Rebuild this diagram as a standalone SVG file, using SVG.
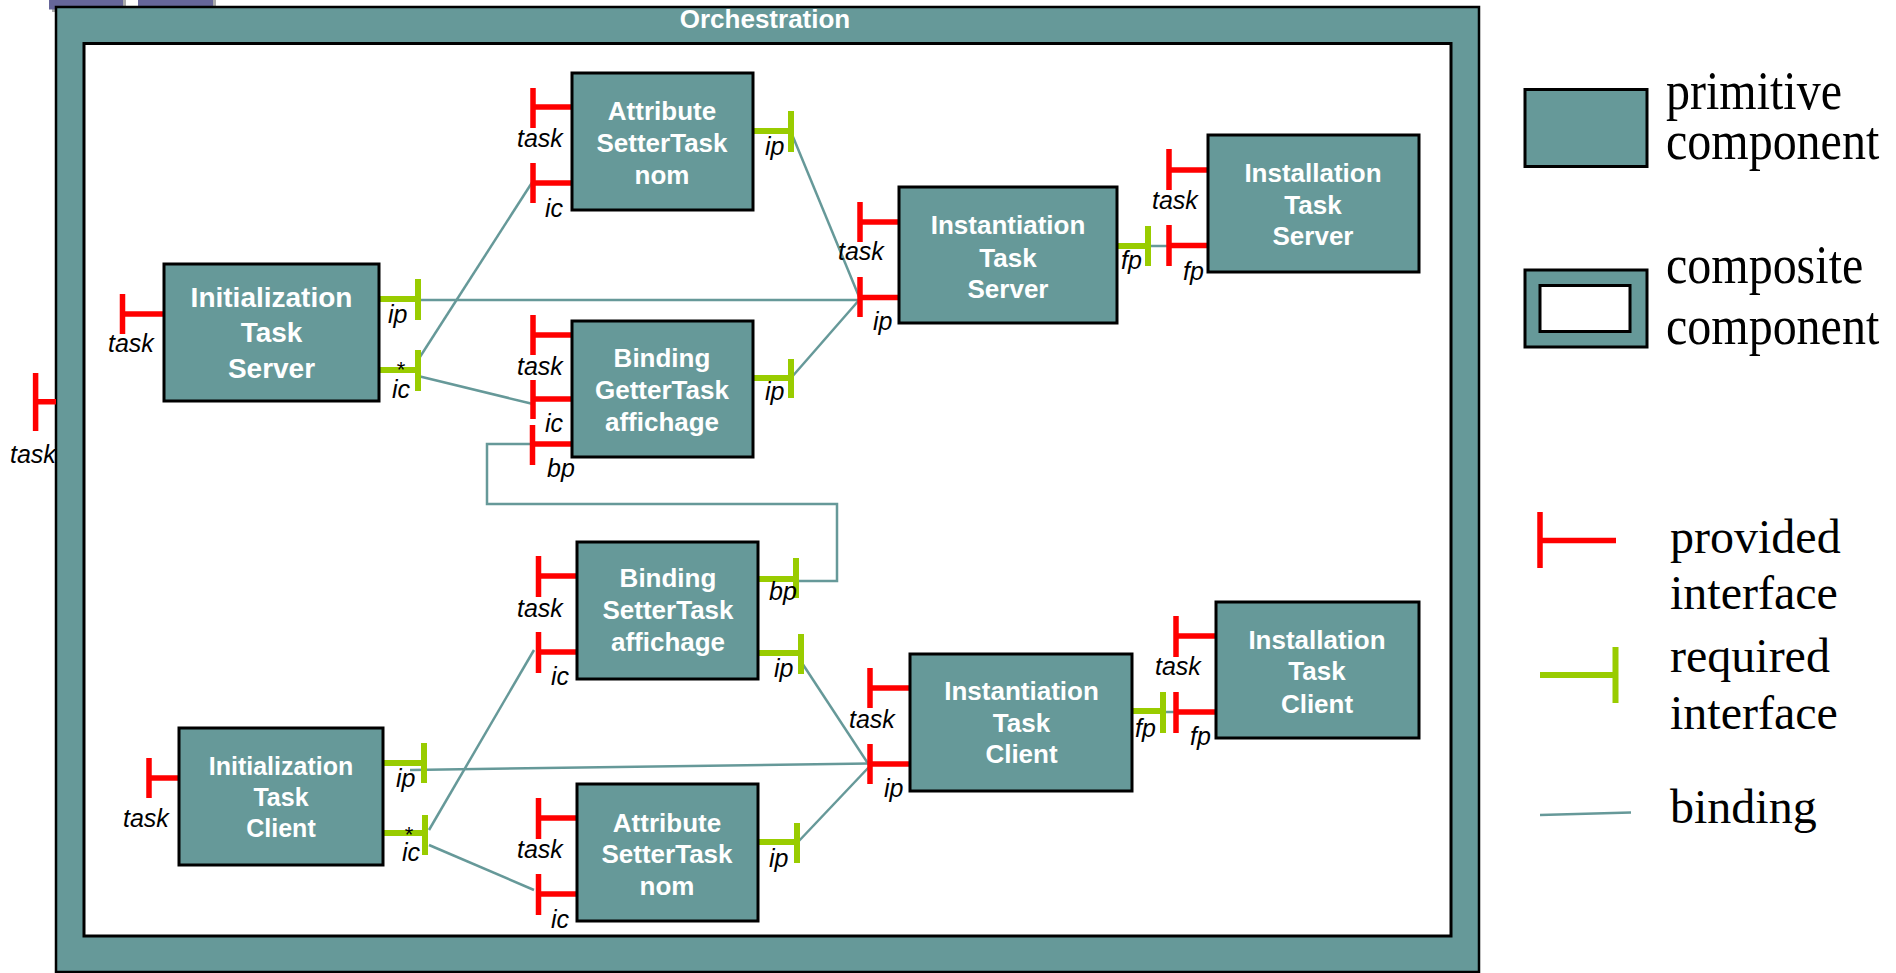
<svg xmlns="http://www.w3.org/2000/svg" width="1896" height="973" viewBox="0 0 1896 973">
<style>
.box{fill:#669999;stroke:#000;stroke-width:3}
.prov{stroke:#ff0000;stroke-width:5.5;fill:none}
.req{stroke:#99cc00;stroke-width:6;fill:none}
.bind{stroke:#669999;stroke-width:2.5;fill:none}
.nt{font-family:"Liberation Sans",Arial,sans-serif;font-weight:bold;fill:#fff;text-anchor:middle;font-size:26px}
.lbl{font-family:"Liberation Sans",Arial,sans-serif;font-style:italic;font-size:25px;fill:#000}
.star{font-family:"Liberation Sans",Arial,sans-serif;font-size:22px;fill:#000;text-anchor:middle}
.leg{font-family:"Liberation Serif","Times New Roman",serif;font-size:48px;fill:#000}
</style>
<rect width="1896" height="973" fill="#fff"/>
<g id="tabs">
<rect x="52" y="0" width="74" height="12" fill="#aaaaaa"/>
<rect x="49" y="0" width="74" height="9.5" fill="#666699"/>
<rect x="141" y="0" width="75" height="12" fill="#aaaaaa"/>
<rect x="138" y="0" width="75" height="9.5" fill="#666699"/>
</g>
<g id="orchestration">
<rect x="56" y="7" width="1423" height="965" fill="#669999" stroke="#000" stroke-width="2.5"/>
<rect x="84" y="43.5" width="1367" height="892.5" fill="#fff" stroke="#000" stroke-width="3"/>
<text x="765" y="28" class="nt" style="font-size:26px">Orchestration</text>
<path class="prov" d="M35.6 373V431M35.6 401.7H56"/>
<text x="10" y="463" class="lbl">task</text>
</g>
<g id="connectors">
<path class="bind" d="M418 300H860"/>
<path class="bind" d="M791 132L860 299"/>
<path class="bind" d="M791 378L860 299"/>
<path class="bind" d="M418 360L533 181"/>
<path class="bind" d="M418 376L533 404"/>
<path class="bind" d="M532 444H487V504H837V581H796"/>
<path class="bind" d="M1148 246H1169"/>
<path class="bind" d="M410 770L869 763.5"/>
<path class="bind" d="M802 663L869 765"/>
<path class="bind" d="M797 843L869 767"/>
<path class="bind" d="M429 830L534 650"/>
<path class="bind" d="M429 845L534 890"/>
<path class="bind" d="M1163 712H1176"/>
</g>
<g id="init-server">
<path class="prov" d="M122.5 294V334M122.5 314H164"/>
<path class="req" d="M379 299H418M418 279V320"/>
<path class="req" d="M379 370H418M418 350V391"/>
<rect class="box" x="164" y="264" width="215" height="137"/>
<text class="nt" x="271.5" style="font-size:28px"><tspan x="271.5" y="307">Initialization</tspan><tspan x="271.5" y="342">Task</tspan><tspan x="271.5" y="378">Server</tspan></text>
<text x="108" y="352" class="lbl">task</text>
<text x="388" y="323" class="lbl">ip</text>
<text x="392" y="398" class="lbl">ic</text>
<text x="401" y="377" class="star">*</text>
</g>
<g id="attr-setter-top">
<path class="prov" d="M533 88V128M533 107H572"/>
<path class="prov" d="M533 163V203M533 183H572"/>
<path class="req" d="M753 131H791M791 111V152"/>
<rect class="box" x="572" y="73" width="181" height="137"/>
<text class="nt"><tspan x="662" y="120">Attribute</tspan><tspan x="662" y="152">SetterTask</tspan><tspan x="662" y="184">nom</tspan></text>
<text x="517" y="147" class="lbl">task</text>
<text x="545" y="217" class="lbl">ic</text>
<text x="765" y="155" class="lbl">ip</text>
</g>
<g id="binding-getter">
<path class="prov" d="M533 315V355M533 335H572"/>
<path class="prov" d="M533 380V419M533 399H572"/>
<path class="prov" d="M532.5 425V465M532.5 444H572"/>
<path class="req" d="M753 378H791M791 359V398"/>
<rect class="box" x="572" y="321" width="181" height="136"/>
<text class="nt"><tspan x="662" y="367">Binding</tspan><tspan x="662" y="399">GetterTask</tspan><tspan x="662" y="431">affichage</tspan></text>
<text x="517" y="375" class="lbl">task</text>
<text x="545" y="432" class="lbl">ic</text>
<text x="547" y="477" class="lbl">bp</text>
<text x="765" y="400" class="lbl">ip</text>
</g>
<g id="inst-server">
<path class="prov" d="M860 202V242M860 222H899"/>
<path class="prov" d="M860 277V317M860 297.5H899"/>
<path class="req" d="M1117 246H1148M1148 226V266"/>
<rect class="box" x="899" y="187" width="218" height="136"/>
<text class="nt"><tspan x="1008" y="234">Instantiation</tspan><tspan x="1008" y="266.5">Task</tspan><tspan x="1008" y="298">Server</tspan></text>
<text x="838" y="260" class="lbl">task</text>
<text x="873" y="330" class="lbl">ip</text>
<text x="1121" y="269" class="lbl">fp</text>
</g>
<g id="install-server">
<path class="prov" d="M1169 149V190M1169 170H1208"/>
<path class="prov" d="M1169 225V266M1169 245.5H1208"/>
<rect class="box" x="1208" y="135" width="211" height="137"/>
<text class="nt"><tspan x="1313" y="182">Installation</tspan><tspan x="1313" y="213.5">Task</tspan><tspan x="1313" y="245">Server</tspan></text>
<text x="1152" y="209" class="lbl">task</text>
<text x="1183" y="280" class="lbl">fp</text>
</g>
<g id="binding-setter">
<path class="prov" d="M538.5 556V597M538.5 576H577"/>
<path class="prov" d="M538.5 632V673M538.5 652H577"/>
<path class="req" d="M758 579H796M796 558V598"/>
<path class="req" d="M758 653H801M801 634V674"/>
<rect class="box" x="577" y="542" width="181" height="137"/>
<text class="nt"><tspan x="668" y="587">Binding</tspan><tspan x="668" y="619">SetterTask</tspan><tspan x="668" y="651">affichage</tspan></text>
<text x="517" y="617" class="lbl">task</text>
<text x="551" y="685" class="lbl">ic</text>
<text x="769" y="600" class="lbl">bp</text>
<text x="774" y="677" class="lbl">ip</text>
</g>
<g id="init-client">
<path class="prov" d="M149 758V798M149 778H179"/>
<path class="req" d="M383 763H424M424 743V783"/>
<path class="req" d="M383 833H425M425 815V855"/>
<rect class="box" x="179" y="728" width="204" height="137"/>
<text class="nt" style="font-size:25px"><tspan x="281" y="775">Initialization</tspan><tspan x="281" y="806">Task</tspan><tspan x="281" y="837">Client</tspan></text>
<text x="123" y="827" class="lbl">task</text>
<text x="396" y="787" class="lbl">ip</text>
<text x="402" y="861" class="lbl">ic</text>
<text x="409" y="842" class="star">*</text>
</g>
<g id="attr-setter-bottom">
<path class="prov" d="M538.5 798V839M538.5 818H577"/>
<path class="prov" d="M538.5 874V915M538.5 894H577"/>
<path class="req" d="M758 842H797M797 823V863"/>
<rect class="box" x="577" y="784" width="181" height="137"/>
<text class="nt"><tspan x="667" y="831.5">Attribute</tspan><tspan x="667" y="863">SetterTask</tspan><tspan x="667" y="895">nom</tspan></text>
<text x="517" y="858" class="lbl">task</text>
<text x="551" y="928" class="lbl">ic</text>
<text x="769" y="867" class="lbl">ip</text>
</g>
<g id="inst-client">
<path class="prov" d="M870 668V708M870 688H910"/>
<path class="prov" d="M870 744V784M870 764H910"/>
<path class="req" d="M1132 711H1163M1163 692V733"/>
<rect class="box" x="910" y="654" width="222" height="137"/>
<text class="nt"><tspan x="1021.5" y="700">Instantiation</tspan><tspan x="1021.5" y="731.5">Task</tspan><tspan x="1021.5" y="763">Client</tspan></text>
<text x="849" y="728" class="lbl">task</text>
<text x="884" y="797" class="lbl">ip</text>
<text x="1135" y="737" class="lbl">fp</text>
</g>
<g id="install-client">
<path class="prov" d="M1176 616V657M1176 636H1216"/>
<path class="prov" d="M1176 692V733M1176 712H1216"/>
<rect class="box" x="1216" y="602" width="203" height="136"/>
<text class="nt"><tspan x="1317" y="648.5">Installation</tspan><tspan x="1317" y="680">Task</tspan><tspan x="1317" y="713">Client</tspan></text>
<text x="1155" y="675" class="lbl">task</text>
<text x="1190" y="745" class="lbl">fp</text>
</g>
<g id="legend">
<rect class="box" x="1525" y="89.5" width="122" height="77"/>
<text class="leg" transform="translate(1666 108.5) scale(1 1.15)">primitive</text>
<text class="leg" transform="translate(1666 159) scale(1 1.15)">component</text>
<rect class="box" x="1525" y="270" width="122" height="77"/>
<rect x="1540" y="285.5" width="90" height="46" fill="#fff" stroke="#000" stroke-width="3"/>
<text class="leg" transform="translate(1666 283) scale(1 1.15)">composite</text>
<text class="leg" transform="translate(1666 344) scale(1 1.15)">component</text>
<path class="prov" d="M1540 512V568M1540 540.5H1616"/>
<text class="leg"><tspan x="1670" y="553">provided</tspan><tspan x="1670" y="609">interface</tspan></text>
<path class="req" d="M1540 675H1615.5M1615.5 647V703"/>
<text class="leg"><tspan x="1670" y="672">required</tspan><tspan x="1670" y="729">interface</tspan></text>
<path class="bind" d="M1540 815L1631 812.5"/>
<text x="1670" y="823" class="leg">binding</text>
</g>
</svg>
